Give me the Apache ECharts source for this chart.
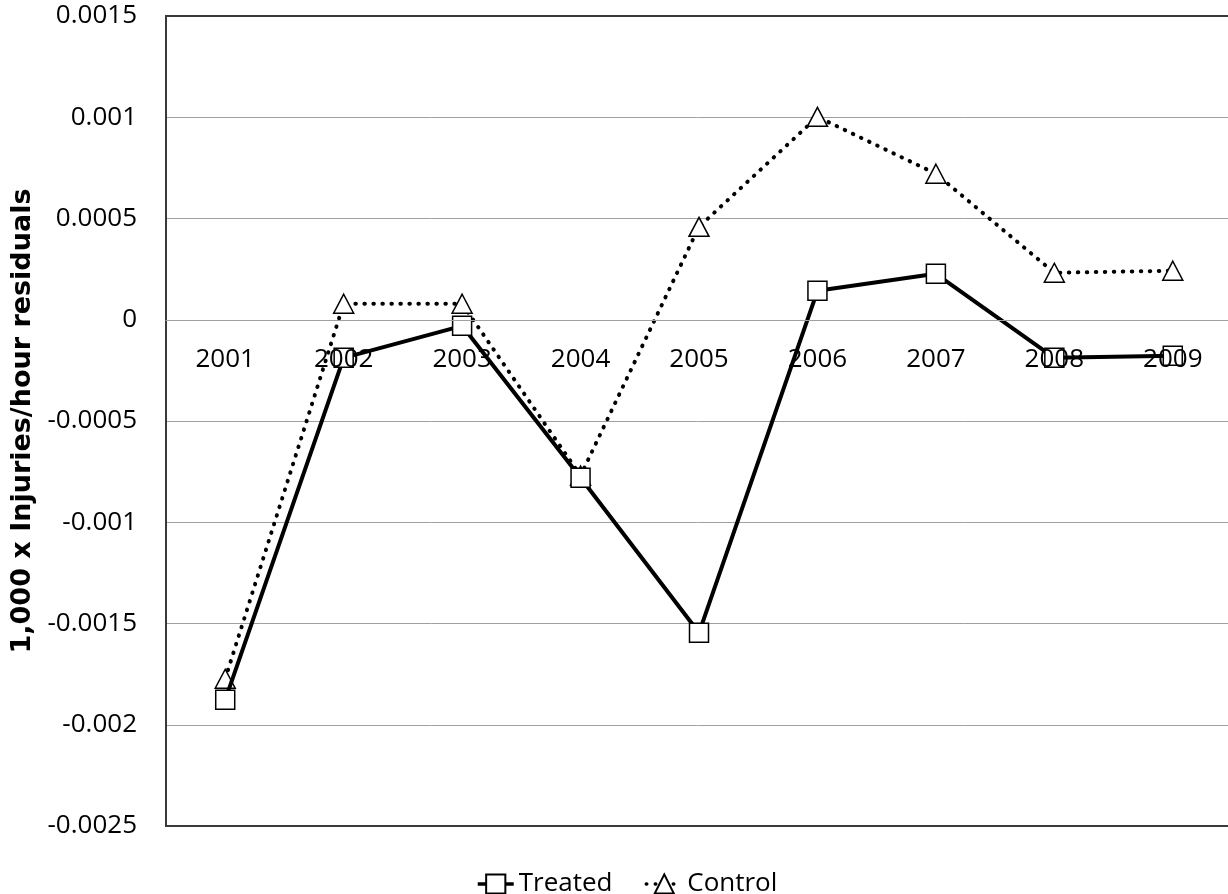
<!DOCTYPE html>
<html>
<head>
<meta charset="utf-8">
<script src="https://cdn.jsdelivr.net/npm/echarts@6/dist/echarts.min.js"></script>
<style>html,body{margin:0;padding:0;background:#fff;}#c{width:1228px;height:894px;}</style>
</head>
<body>
<div id="c"></div>
<script>
const categories = ['2001','2002','2003','2004','2005','2006','2007','2008','2009'];
const treated = [-0.001877, -0.000188, -0.00003, -0.00078, -0.001546, 0.000143, 0.000227, -0.000188, -0.000178];
const control = [-0.001773, 0.000079, 0.000079, -0.00077, 0.000459, 0.001002, 0.000721, 0.000232, 0.000242];
const yTickLabels = ['-0.0025','-0.002','-0.0015','-0.001','-0.0005','0','0.0005','0.001','0.0015'];
const yAxisTitle = '1,000 x Injuries/hour residuals';
const seriesNames = ['Treated', 'Control'];

const FONT = 'Open Sans';
const Y_MIN = -0.0025, Y_MAX = 0.0015;
const GRID = {left: 166, top: 16, width: 1066, height: 810};
// distance from the bottom of the plot to the zero line, computed from the scale
const zeroOffset = GRID.height * (0 - Y_MIN) / (Y_MAX - Y_MIN);

const chart = echarts.init(document.getElementById('c'), null, {renderer: 'canvas'});
chart.setOption({
  animation: false,
  backgroundColor: '#ffffff',
  textStyle: {fontFamily: FONT},
  grid: Object.assign({show: true, borderColor: '#3a3a3a', borderWidth: 2, containLabel: false, outerBoundsMode: 'none'}, GRID),
  legend: {
    left: 471, top: 866,
    itemWidth: 36, itemHeight: 24, itemGap: 32,
    lineStyle: {width: 3.5},
    textStyle: {fontFamily: FONT, fontSize: 26, color: '#000'},
    data: seriesNames
  },
  xAxis: {
    type: 'category', data: categories, boundaryGap: true, z: 10,
    position: 'bottom', offset: -zeroOffset,
    axisLine: {show: true, onZero: false, lineStyle: {color: '#a0a0a0', width: 1}},
    axisTick: {show: false},
    axisLabel: {fontFamily: FONT, fontSize: 26, color: '#000', margin: 27, interval: 0},
    splitLine: {show: false}
  },
  yAxis: {
    type: 'value', min: Y_MIN, max: Y_MAX, interval: 0.0005,
    name: yAxisTitle, nameLocation: 'middle', nameGap: 124,
    nameTextStyle: {fontFamily: 'DejaVu Sans', fontSize: 27, fontWeight: 'bold', color: '#000'},
    axisLine: {show: true, lineStyle: {color: '#3a3a3a', width: 2}},
    axisTick: {show: false},
    axisLabel: {fontFamily: FONT, fontSize: 26, color: '#000', margin: 29,
      formatter: function (v) { const i = Math.round((v - Y_MIN) / 0.0005); return yTickLabels[i]; }},
    splitLine: {show: true, showMinLine: false, showMaxLine: false, lineStyle: {color: '#a0a0a0', width: 1}}
  },
  series: [
    {
      name: seriesNames[0], type: 'line', data: treated,
      symbol: 'rect', symbolSize: 19, z: 3,
      lineStyle: {color: '#000', width: 4},
      itemStyle: {color: '#fff', borderColor: '#000', borderWidth: 1.5}
    },
    {
      name: seriesNames[1], type: 'line', data: control,
      symbol: 'triangle', symbolSize: [20, 19], z: 2,
      lineStyle: {color: '#000', width: 4, type: [0.5, 8.5], cap: 'round'},
      itemStyle: {color: '#fff', borderColor: '#000', borderWidth: 1.5}
    }
  ]
});
</script>
</body>
</html>
